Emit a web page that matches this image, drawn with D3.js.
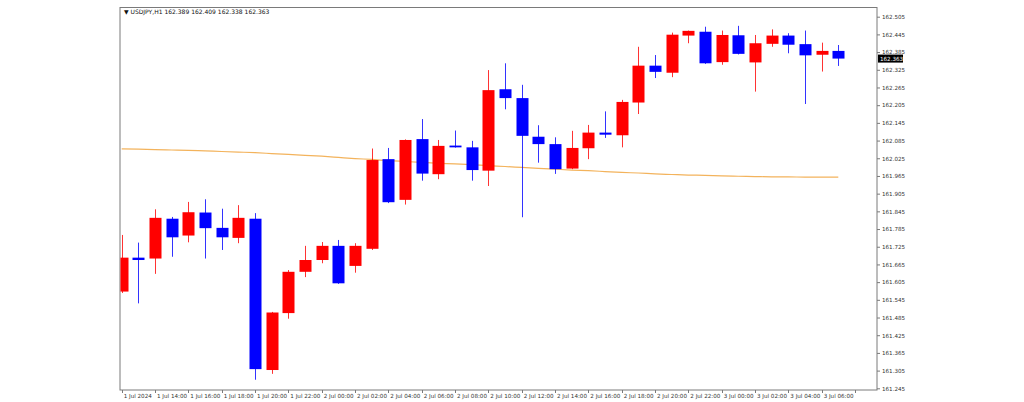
<!DOCTYPE html>
<html>
<head>
<meta charset="utf-8">
<script src="https://cdn.jsdelivr.net/npm/d3@7"></script>
<style>
  html, body { margin: 0; padding: 0; background: #ffffff; }
  svg { display: block; }
  text { font-family: "DejaVu Sans", Arial, sans-serif; }
</style>
</head>
<body>
<svg id="chart" width="1024" height="402"></svg>
<script>
// ---- Data ----
const symbolTitle = "USDJPY,H1";
const headerValues = ["162.389", "162.409", "162.338", "162.363"];
const currentPrice = 162.363;

const opens  = [161.573, 161.688, 161.685, 161.820, 161.763, 161.841, 161.789, 161.755, 161.820, 161.307,
                161.500, 161.640, 161.680, 161.728, 161.660, 161.718, 162.022, 161.884, 162.090, 161.971,
                162.068, 162.062, 161.983, 162.259, 162.229, 162.098, 162.073, 161.990, 162.059, 162.112,
                162.103, 162.214, 162.339, 162.315, 162.441, 162.454, 162.351, 162.442, 162.350, 162.413,
                162.441, 162.412, 162.376, 162.389];
const highs  = [161.765, 161.739, 161.852, 161.826, 161.877, 161.886, 161.854, 161.866, 161.839, 161.504,
                161.646, 161.728, 161.741, 161.748, 161.737, 162.058, 162.060, 162.089, 162.158, 162.087,
                162.119, 162.084, 162.324, 162.347, 162.274, 162.137, 162.096, 162.118, 162.138, 162.184,
                162.223, 162.403, 162.375, 162.451, 162.458, 162.471, 162.458, 162.474, 162.443, 162.462,
                162.449, 162.458, 162.417, 162.409];
const lows   = [161.568, 161.533, 161.633, 161.691, 161.740, 161.685, 161.714, 161.737, 161.274, 161.294,
                161.481, 161.622, 161.669, 161.599, 161.637, 161.714, 161.873, 161.868, 161.949, 161.954,
                162.061, 161.949, 161.931, 162.191, 161.825, 162.010, 161.972, 161.988, 162.022, 162.094,
                162.062, 162.175, 162.297, 162.300, 162.415, 162.345, 162.342, 162.377, 162.251, 162.403,
                162.381, 162.209, 162.319, 162.338];
const closes = [161.688, 161.680, 161.823, 161.757, 161.842, 161.788, 161.757, 161.823, 161.310, 161.502,
                161.640, 161.680, 161.728, 161.601, 161.728, 162.019, 161.876, 162.087, 161.973, 162.067,
                162.062, 161.985, 162.256, 162.229, 162.101, 162.073, 161.988, 162.060, 162.112, 162.105,
                162.216, 162.339, 162.318, 162.444, 162.457, 162.347, 162.443, 162.379, 162.415, 162.441,
                162.410, 162.374, 162.389, 162.363];
const maValues = [162.057, 162.056, 162.054, 162.053, 162.052, 162.050, 162.048, 162.046, 162.044, 162.041,
                  162.038, 162.035, 162.032, 162.028, 162.024, 162.021, 162.017, 162.014, 162.011, 162.008,
                  162.006, 162.003, 162.000, 161.997, 161.994, 161.991, 161.988, 161.985, 161.983, 161.980,
                  161.977, 161.975, 161.972, 161.970, 161.968, 161.967, 161.965, 161.964, 161.963, 161.962,
                  161.962, 161.961, 161.961, 161.961];
const xTickLabels = ["1 Jul 2024", "1 Jul 14:00", "1 Jul 16:00", "1 Jul 18:00", "1 Jul 20:00", "1 Jul 22:00",
                     "2 Jul 00:00", "2 Jul 02:00", "2 Jul 04:00", "2 Jul 06:00", "2 Jul 08:00", "2 Jul 10:00",
                     "2 Jul 12:00", "2 Jul 14:00", "2 Jul 16:00", "2 Jul 18:00", "2 Jul 20:00", "2 Jul 22:00",
                     "3 Jul 00:00", "3 Jul 02:00", "3 Jul 04:00", "3 Jul 06:00"];
const yTickValues = [162.505, 162.445, 162.385, 162.325, 162.265, 162.205, 162.145, 162.085, 162.025,
                     161.965, 161.905, 161.845, 161.785, 161.725, 161.665, 161.605, 161.545, 161.485,
                     161.425, 161.365, 161.305, 161.245];

// ---- Layout ----
const frame = { left: 120, right: 877, top: 7.5, bottom: 390 };
const bullColor = "#ff0000";
const bearColor = "#0000ff";
const maColor = "#f3b35c";
const axisColor = "#7a7a7a";

const svg = d3.select("#chart");
const n = opens.length;

const x = d3.scaleLinear().domain([0, n - 1]).range([121.7, 838.3]);
const y = d3.scaleLinear().domain([161.245, 162.505]).range([388.3, 16.7]);
const bodyW = 12;

svg.append("defs").append("clipPath").attr("id", "plotClip")
  .append("rect")
  .attr("x", frame.left + 0.5).attr("y", frame.top)
  .attr("width", frame.right - frame.left - 1).attr("height", frame.bottom - frame.top);

// frame
svg.append("rect")
  .attr("x", frame.left).attr("y", frame.top)
  .attr("width", frame.right - frame.left).attr("height", frame.bottom - frame.top)
  .attr("fill", "none").attr("stroke", axisColor).attr("stroke-width", 1);

const plot = svg.append("g").attr("clip-path", "url(#plotClip)");

// moving average
const maLine = d3.line().x((d, i) => x(i)).y(d => y(d)).curve(d3.curveMonotoneX);
plot.append("path")
  .datum(maValues)
  .attr("d", maLine)
  .attr("fill", "none")
  .attr("stroke", maColor)
  .attr("stroke-width", 1.2);

// candles
const candles = d3.range(n).map(i => ({
  i, o: opens[i], h: highs[i], l: lows[i], c: closes[i]
}));

const cg = plot.selectAll("g.candle").data(candles).join("g").attr("class", "candle");
cg.append("line")
  .attr("x1", d => Math.round(x(d.i)) + 0.5)
  .attr("x2", d => Math.round(x(d.i)) + 0.5)
  .attr("y1", d => y(d.h))
  .attr("y2", d => y(d.l))
  .attr("stroke", d => d.c >= d.o ? bullColor : bearColor)
  .attr("stroke-opacity", 0.8)
  .attr("stroke-width", 1);
cg.append("rect")
  .attr("x", d => Math.round(x(d.i)) + 0.5 - bodyW / 2)
  .attr("width", bodyW)
  .attr("y", d => y(Math.max(d.o, d.c)))
  .attr("height", d => Math.max(1.5, Math.abs(y(d.o) - y(d.c))))
  .attr("fill", d => d.c >= d.o ? bullColor : bearColor);

// right price axis
const yAxis = d3.axisRight(y).tickValues(yTickValues).tickSize(3).tickPadding(2)
  .tickFormat(d3.format(".3f"));
const ya = svg.append("g").attr("transform", `translate(${frame.right},0)`).call(yAxis);
ya.select(".domain").remove();
ya.selectAll(".tick line").attr("stroke", axisColor);
ya.selectAll(".tick text").attr("font-size", 5.6).attr("fill", "#333");

// current price label
const cpY = y(currentPrice);
svg.append("rect")
  .attr("x", frame.right + 1).attr("y", cpY - 4)
  .attr("width", 25).attr("height", 8)
  .attr("fill", "#000");
svg.append("text")
  .attr("x", frame.right + 3).attr("y", cpY + 2)
  .attr("font-size", 5.6).attr("fill", "#fff")
  .text(d3.format(".3f")(currentPrice));

// bottom time axis
const tickIdx = xTickLabels.map((_, k) => k * 2);
const xa = svg.append("g").attr("transform", `translate(0,${frame.bottom})`);
xa.selectAll("line").data(tickIdx.concat([44])).join("line")
  .attr("x1", d => Math.round(x(d)) + 0.5).attr("x2", d => Math.round(x(d)) + 0.5)
  .attr("y1", 0).attr("y2", 3)
  .attr("stroke", axisColor);
xa.selectAll("text").data(tickIdx).join("text")
  .attr("x", d => x(d) + 2)
  .attr("y", 8)
  .attr("font-size", 5.6)
  .attr("fill", "#333")
  .text((d, k) => xTickLabels[k]);

// header
svg.append("text")
  .attr("x", frame.left + 4).attr("y", 13.5)
  .attr("font-size", 6).attr("fill", "#111")
  .text("\u25BC " + symbolTitle + "  " + headerValues.join(" "));
</script>
</body>
</html>
